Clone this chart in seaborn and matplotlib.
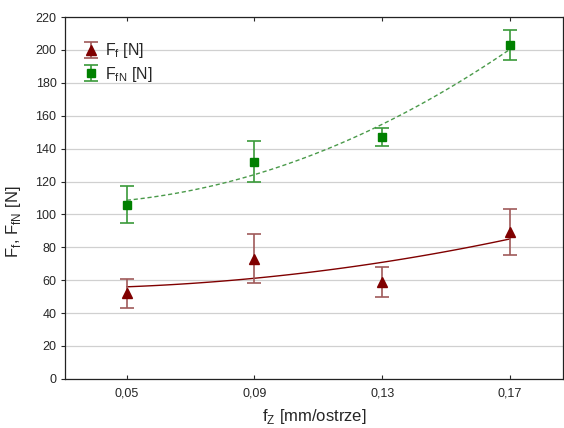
import numpy as np
import pandas as pd
import matplotlib
matplotlib.use("Agg")
import matplotlib.pyplot as plt
import seaborn as sns

sns.set_style("white")
plt.rcParams['font.family'] = ['Liberation Sans', 'DejaVu Sans']

feed = [0.05, 0.09, 0.13, 0.17]
feed_labels = ["0,05", "0,09", "0,13", "0,17"]
ff = [52, 73, 59, 89]
ff_err = [9, 15, 9, 14]
ffn = [106, 132, 147, 203]
ffn_err = [11, 12.5, 5.5, 9]

df = pd.DataFrame({"fz": feed, "Ff": ff, "Ff_err": ff_err, "FfN": ffn, "FfN_err": ffn_err})

red = "#800000"
red_light = "#a05a5a"
green = "#008000"
green_light = "#3a9a3a"

fig = plt.figure(figsize=(5.64, 4.28), dpi=100)
ax = fig.add_axes([0.115, 0.115, 0.883, 0.845])

# quadratic fits
xs = np.linspace(min(feed), max(feed), 100)
fit_df = pd.DataFrame({
    "fz": xs,
    "Ff": np.polyval(np.polyfit(df.fz, df.Ff, 2), xs),
    "FfN": np.polyval(np.polyfit(df.fz, df.FfN, 2), xs),
})
sns.lineplot(data=fit_df, x="fz", y="Ff", ax=ax, color=red, lw=1.0, legend=False)
sns.lineplot(data=fit_df, x="fz", y="FfN", ax=ax, color="#4a9a4a", lw=1.0,
             linestyle=(0, (3, 2)), legend=False)

ax.errorbar(df.fz, df.Ff, yerr=df.Ff_err, fmt="^", color=red, ecolor=red_light,
            elinewidth=1.2, capsize=4.8, capthick=1.2, ms=6.5, label="F$_{\\mathregular{f}}$ [N]")
ax.errorbar(df.fz, df.FfN, yerr=df.FfN_err, fmt="s", color=green, ecolor=green_light,
            elinewidth=1.2, capsize=4.8, capthick=1.2, ms=6.3, label="F$_{\\mathregular{fN}}$ [N]")

ax.set_xlim(0.0306, 0.1866)
ax.set_ylim(0, 220)
ax.set_yticks(np.arange(0, 221, 20))
ax.set_xticks(feed)
ax.set_xticklabels(feed_labels)
ax.yaxis.grid(True, color="#d0d0d0", lw=0.9)
ax.set_axisbelow(True)
for s in ax.spines.values():
    s.set_color("#222222")
    s.set_linewidth(0.9)
    s.set_visible(True)
ax.tick_params(axis="x", direction="in", top=True, bottom=True, length=3, labelsize=9, pad=6)
ax.tick_params(axis="y", direction="out", left=True, length=3, labelsize=9, pad=3)

ax.set_xlabel("f$_{\\mathregular{Z}}$ [mm/ostrze]", fontsize=12, labelpad=6)
ax.set_ylabel("F$_{\\mathregular{f}}$, F$_{\\mathregular{fN}}$ [N]", fontsize=12)
ax.yaxis.set_label_coords(-0.085, 0.435)

ax.legend(loc="upper left", bbox_to_anchor=(0.015, 0.96), frameon=False, fontsize=11.5,
          handlelength=1.2, handletextpad=0.25, borderaxespad=0.2, labelspacing=0.3)

fig.savefig("out.png", dpi=100)
